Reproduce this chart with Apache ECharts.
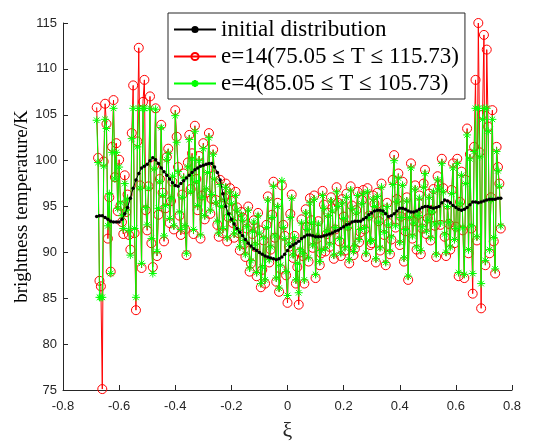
<!DOCTYPE html>
<html>
<head>
<meta charset="utf-8">
<script src="https://cdn.jsdelivr.net/npm/echarts@6/dist/echarts.min.js"></script>
<style>
  html, body { margin: 0; padding: 0; background: #fff; }
  #main { width: 545px; height: 442px; }
</style>
</head>
<body>
<div id="main"></div>
<script>
// sampling grids of xi
const initStart = -0.68;
const initStep = 0.01;
const noisyStart = -0.68;
const noisyStep = 0.005;
const xTicks = ['-0.8', '-0.6', '-0.4', '-0.2', '0', '0.2', '0.4', '0.6', '0.8'];

const initialValues = [
  93.9, 94.0, 94.0, 93.8, 93.6, 93.4, 93.3, 93.3, 93.3, 93.6,
  94.2, 94.9, 95.9, 97.0, 97.9, 98.6, 99.2, 99.4, 99.6, 100.0,
  100.3, 100.1, 99.7, 99.2, 98.8, 98.4, 98.0, 97.6, 97.3, 97.2,
  97.5, 97.8, 98.1, 98.4, 98.7, 99.0, 99.2, 99.4, 99.5, 99.6,
  99.7, 99.7, 99.3, 98.7, 97.9, 96.4, 95.0, 94.2, 93.6, 93.1,
  92.6, 92.2, 91.8, 91.4, 91.0, 90.7, 90.4, 90.2, 90.0, 89.8,
  89.6, 89.5, 89.4, 89.3, 89.2, 89.3, 89.5, 89.8, 90.2, 90.6,
  90.8, 91.0, 91.2, 91.5, 91.7, 91.9, 91.9, 91.8, 91.7, 91.7,
  91.7, 91.8, 91.9, 92.0, 92.1, 92.3, 92.4, 92.6, 92.8, 93.0,
  93.1, 93.3, 93.4, 93.4, 93.4, 93.6, 93.8, 94.1, 94.3, 94.5,
  94.6, 94.6, 94.5, 94.2, 93.9, 94.0, 94.2, 94.5, 94.8, 94.8,
  94.7, 94.5, 94.4, 94.4, 94.5, 94.7, 94.9, 95.0, 95.0, 94.9,
  94.8, 94.9, 95.0, 95.4, 95.7, 95.6, 95.4, 95.1, 94.9, 94.7,
  94.6, 94.7, 94.9, 95.2, 95.5, 95.5, 95.4, 95.5, 95.6, 95.7,
  95.8, 95.8, 95.8, 95.9, 95.9
];

const e14Values = [
  105.8, 100.3, 86.9, 86.3, 75.1, 99.9, 106.2, 104.0, 91.5, 96.0,
  87.9, 101.5, 106.6, 98.2, 101.9, 94.5, 100.1, 95.1, 93.3, 92.0,
  98.4, 94.4, 96.3, 91.9, 90.3, 103.0, 108.2, 92.1, 83.7, 102.1,
  112.3, 97.3, 88.3, 106.4, 108.8, 94.6, 92.4, 97.2, 107.0, 91.0,
  88.4, 99.5, 105.7, 89.6, 94.1, 98.0, 103.9, 96.5, 91.2, 94.8,
  100.4, 101.3, 93.2, 95.6, 97.7, 92.5, 105.5, 102.6, 99.3, 94.0,
  91.9, 96.3, 98.6, 92.5, 89.7, 99.8, 102.8, 96.9, 100.8, 92.0,
  103.8, 98.0, 94.6, 100.5, 91.5, 96.2, 101.9, 93.6, 96.5, 99.1,
  103.0, 94.2, 95.8, 101.2, 98.4, 95.7, 93.0, 91.7, 97.9, 95.3,
  92.1, 96.0, 97.5, 91.2, 93.8, 97.0, 95.6, 93.2, 91.6, 96.6,
  94.9, 92.1, 90.2, 94.4, 93.8, 90.9, 89.5, 92.6, 95.0, 87.9,
  88.8, 92.0, 93.5, 90.6, 87.4, 94.3, 92.4, 86.2, 88.1, 91.3,
  86.6, 93.0, 96.1, 88.9, 90.3, 94.1, 97.7, 91.6, 86.8, 95.4,
  85.7, 88.2, 97.3, 93.0, 91.8, 87.5, 84.5, 90.6, 94.2, 96.3,
  89.4, 91.8, 86.6, 88.4, 84.3, 90.0, 93.6, 89.6, 86.6, 94.7,
  92.8, 89.0, 95.9, 93.5, 90.5, 96.2, 87.2, 91.5, 93.4, 88.6,
  89.9, 96.7, 95.2, 90.1, 92.0, 94.3, 90.6, 96.0, 94.8, 89.3,
  92.5, 97.1, 95.4, 91.2, 89.6, 95.8, 93.9, 90.2, 96.4, 92.9,
  88.8, 97.2, 95.1, 89.7, 90.4, 94.6, 96.6, 91.1, 92.2, 95.7,
  96.8, 92.5, 89.5, 97.0, 94.0, 90.8, 91.0, 96.2, 95.3, 88.9,
  96.5, 93.4, 90.2, 97.5, 94.6, 91.9, 88.6, 95.4, 93.2, 89.8,
  91.4, 97.9, 100.6, 92.7, 95.8, 98.6, 90.8, 93.9, 97.7, 89.0,
  92.3, 96.0, 87.0, 94.0, 99.7, 91.5, 93.4, 97.3, 90.3, 94.1,
  96.2, 89.8, 92.6, 97.5, 99.0, 92.0, 93.7, 96.4, 91.3, 94.6,
  96.9, 92.9, 89.5, 98.3, 97.3, 93.0, 100.2, 97.0, 91.7, 89.6,
  95.2, 93.1, 90.3, 96.8, 99.7, 91.0, 92.8, 100.2, 87.4, 95.5,
  98.8, 92.4, 87.2, 97.9, 103.5, 89.9, 100.7, 92.6, 85.5, 101.5,
  108.8, 91.3, 115.0, 100.9, 83.9, 105.0, 113.7, 88.6, 112.1, 103.7,
  89.9, 96.0, 105.5, 91.2, 87.7, 101.5, 99.3, 97.5,
  92.6
];

const e4Values = [
  104.4, 99.8, 85.1, 85.1, 85.1, 99.4, 104.5, 103.5, 92.9, 96.4,
  87.7, 100.9, 105.7, 98.0, 100.9, 94.8, 99.3, 95.4, 94.0, 92.6,
  97.5, 94.6, 95.8, 92.4, 89.7, 102.4, 105.7, 92.6, 85.1, 101.5,
  105.7, 97.0, 88.8, 105.7, 105.7, 94.9, 93.0, 97.0, 105.7, 91.5,
  87.7, 99.1, 105.6, 90.1, 94.8, 97.7, 103.6, 96.2, 91.8, 95.1,
  100.1, 100.8, 93.7, 95.9, 98.3, 92.9, 104.9, 102.0, 98.8, 94.4,
  92.5, 96.0, 98.1, 92.9, 89.9, 99.3, 102.3, 96.6, 100.2, 92.5,
  103.2, 97.7, 95.1, 100.0, 91.9, 96.0, 101.3, 94.0, 96.9, 98.7,
  102.5, 94.6, 96.3, 100.7, 98.0, 95.4, 93.4, 92.1, 97.4, 95.0,
  92.6, 95.7, 97.1, 91.6, 94.1, 96.6, 95.3, 93.5, 92.0, 96.2,
  94.6, 92.4, 90.6, 94.1, 93.5, 91.3, 89.8, 92.8, 94.6, 88.3,
  89.1, 92.3, 93.3, 90.9, 87.8, 94.0, 92.1, 86.6, 88.4, 91.6,
  87.0, 92.7, 95.7, 89.2, 90.6, 93.8, 97.2, 91.8, 87.2, 95.0,
  86.1, 88.6, 97.8, 92.7, 91.5, 87.9, 85.3, 90.9, 93.8, 95.9,
  89.7, 91.6, 87.0, 88.8, 85.6, 90.3, 93.2, 89.9, 87.0, 94.3,
  92.5, 89.4, 95.4, 93.2, 90.8, 95.8, 87.6, 91.7, 93.1, 89.0,
  90.2, 96.2, 94.8, 90.4, 92.3, 94.0, 90.9, 95.6, 94.5, 89.7,
  92.7, 96.6, 95.0, 91.5, 89.9, 95.4, 93.7, 90.5, 96.0, 92.7,
  89.2, 96.8, 94.8, 90.1, 90.7, 94.3, 96.2, 91.4, 92.5, 95.3,
  96.4, 92.7, 89.9, 96.6, 93.8, 91.2, 91.3, 95.8, 95.0, 89.3,
  96.1, 93.3, 90.5, 97.1, 94.4, 92.2, 88.9, 95.0, 93.0, 90.1,
  91.7, 97.4, 100.0, 92.9, 95.5, 98.1, 91.1, 93.8, 97.3, 89.4,
  92.5, 95.6, 87.4, 93.8, 99.2, 91.8, 93.2, 96.9, 90.6, 94.0,
  95.9, 90.2, 92.8, 97.1, 98.6, 92.3, 93.5, 96.0, 91.6, 94.4,
  96.6, 93.1, 89.8, 97.9, 97.0, 93.2, 99.7, 96.6, 92.0, 90.0,
  95.0, 93.3, 90.6, 96.4, 99.2, 91.4, 92.6, 99.7, 87.8, 95.3,
  98.4, 92.7, 87.6, 97.5, 102.8, 90.3, 100.2, 92.9, 87.7, 101.0,
  105.7, 91.7, 105.7, 100.4, 86.6, 104.5, 105.7, 89.1, 105.7, 103.2,
  90.3, 95.7, 104.5, 91.6, 88.2, 101.0, 98.9, 97.2,
  92.9
];

const seriesNames = [
  'initial distribution',
  'e=14(75.05 \u2264 T \u2264 115.73)',
  'e=4(85.05 \u2264 T \u2264 105.73)'
];

function pairs(vals, start, step) {
  return vals.map((v, i) => [+(start + i * step).toFixed(3), v]);
}

const chartDom = document.getElementById('main');
const myChart = echarts.init(chartDom);

const axisColor = '#262626';
const tickFont = { fontFamily: 'Liberation Sans', fontSize: 13, color: axisColor };
// MATLAB style asterisk marker
const starPath = 'path://M5,0L5,10M0,5L10,5M1.5,1.5L8.5,8.5M1.5,8.5L8.5,1.5';

const option = {
  animation: false,
  backgroundColor: '#fff',
  grid: { left: 63, right: 33, top: 23, bottom: 52, outerBoundsMode: 'none' },
  legend: {
    orient: 'vertical',
    left: 168,
    top: 13,
    padding: [5, 6, 4, 5],
    itemGap: 4,
    itemWidth: 42,
    itemHeight: 9,
    borderColor: axisColor,
    borderWidth: 1,
    backgroundColor: '#fff',
    textStyle: { fontFamily: 'Liberation Serif', fontSize: 23, lineHeight: 23, color: '#000' },
    data: seriesNames
  },
  xAxis: {
    type: 'value',
    min: -0.8,
    max: 0.8,
    interval: 0.2,
    name: '\u03be',
    nameLocation: 'middle',
    nameGap: 30,
    nameMoveOverlap: false,
    nameTextStyle: { fontFamily: 'Liberation Serif', fontSize: 22, color: axisColor },
    axisLine: { show: true, onZero: false, lineStyle: { color: axisColor } },
    axisTick: { inside: true, length: 5, lineStyle: { color: axisColor } },
    axisLabel: Object.assign({ margin: 10, formatter: (v) => xTicks[Math.round((v + 0.8) / 0.2)] }, tickFont),
    splitLine: { show: false }
  },
  yAxis: {
    type: 'value',
    min: 75,
    max: 115,
    interval: 5,
    name: 'brightness temperature/K',
    nameLocation: 'middle',
    nameGap: 31,
    nameMoveOverlap: false,
    nameTextStyle: { fontFamily: 'Liberation Serif', fontSize: 19, color: '#000' },
    axisLine: { show: true, onZero: false, lineStyle: { color: axisColor } },
    axisTick: { inside: true, length: 5, lineStyle: { color: axisColor } },
    axisLabel: Object.assign({ margin: 6 }, tickFont),
    splitLine: { show: false }
  },
  series: [
    {
      name: seriesNames[0],
      type: 'line',
      z: 5,
      data: pairs(initialValues, initStart, initStep),
      symbol: 'circle',
      symbolSize: 3.5,
      showAllSymbol: true,
      lineStyle: { color: '#000', width: 1 },
      itemStyle: { color: '#000' }
    },
    {
      name: seriesNames[1],
      type: 'line',
      z: 3,
      data: pairs(e14Values, noisyStart, noisyStep),
      symbol: 'circle',
      symbolSize: 9,
      showAllSymbol: true,
      lineStyle: { color: '#ff0000', width: 1 },
      itemStyle: { color: 'none', borderColor: '#ff0000', borderWidth: 1 }
    },
    {
      name: seriesNames[2],
      type: 'line',
      z: 4,
      data: pairs(e4Values, noisyStart, noisyStep),
      symbol: starPath,
      symbolSize: 8,
      showAllSymbol: true,
      lineStyle: { color: '#00ff00', width: 1 },
      itemStyle: { color: 'none', borderColor: '#00ff00', borderWidth: 1 }
    }
  ]
};

myChart.setOption(option);
</script>
</body>
</html>
